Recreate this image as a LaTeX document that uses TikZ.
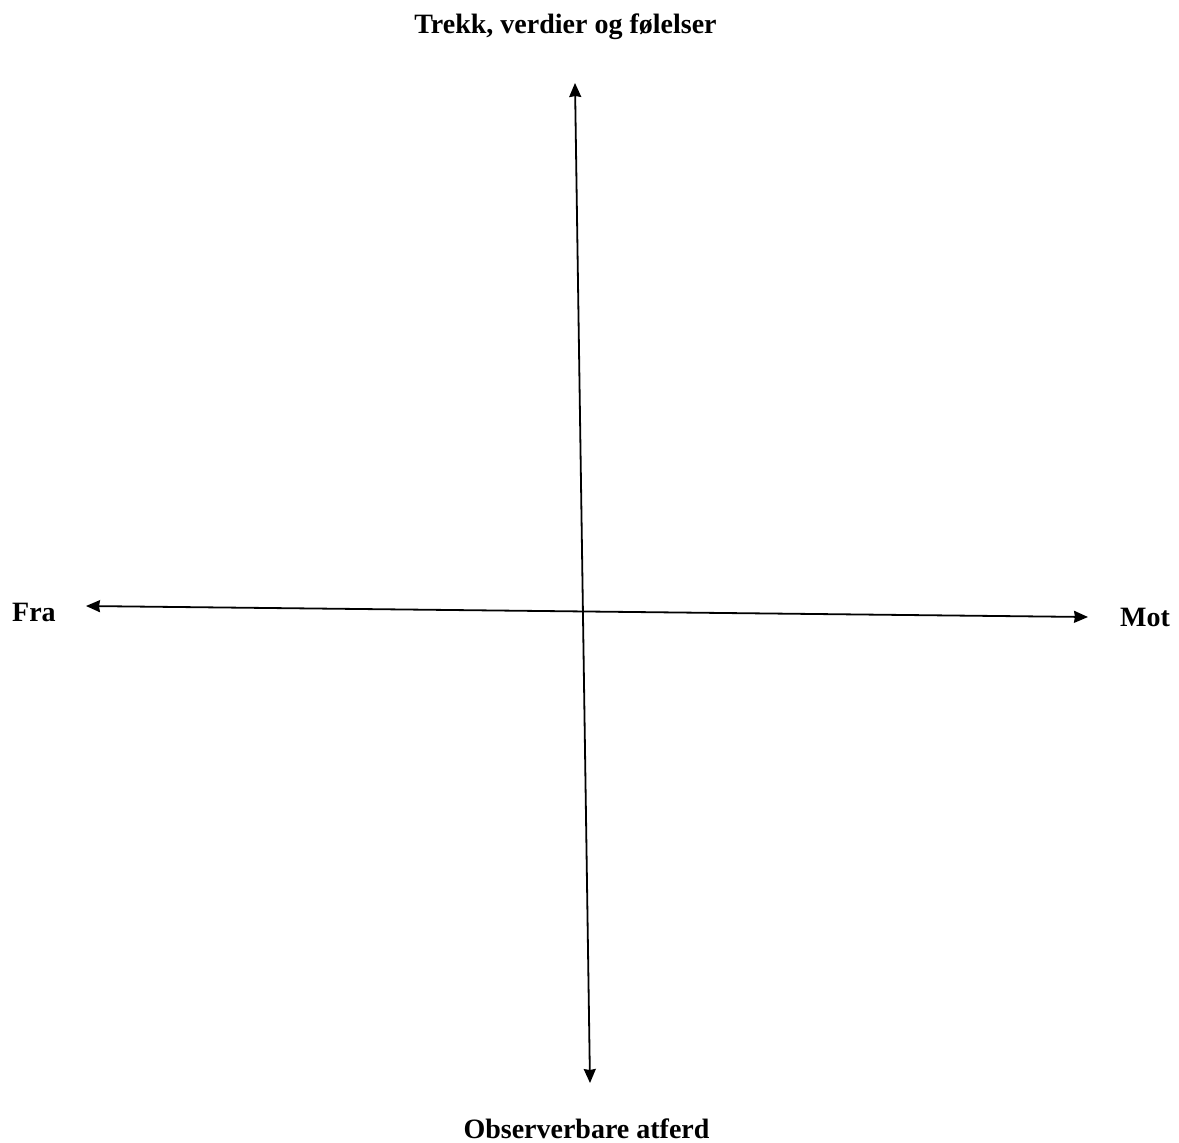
\documentclass[tikz,border=0pt]{standalone}
\usepackage{fontspec}
\setmainfont{Liberation Serif}
\usetikzlibrary{arrows.meta}
\tikzset{
  label/.style={inner sep=0pt, font=\fontsize{28}{34}\selectfont\bfseries},
  axis/.style={line width=1.8pt, {Stealth[length=14pt,width=12pt,inset=1pt]}-{Stealth[length=14pt,width=12pt,inset=1pt]}}
}
\begin{document}
\begin{tikzpicture}[x=1pt,y=-1pt]
\useasboundingbox (0,0) rectangle (1179,1143);
\coordinate (top) at (575,83);
\coordinate (bottom) at (590,1083);
\coordinate (left) at (86,606);
\coordinate (right) at (1088,617);
\node[label, anchor=base] (trekk) at (565.5,33) {Trekk, verdier og følelser};
\node[label, anchor=base] (atferd) at (586.5,1138) {Observerbare atferd};
\node[label, anchor=base west] (fra) at (12,621) {Fra};
\node[label, anchor=base west] (mot) at (1120,626) {Mot};
\draw[axis] (top) -- (bottom);
\draw[axis] (left) -- (right);
\end{tikzpicture}
\end{document}
